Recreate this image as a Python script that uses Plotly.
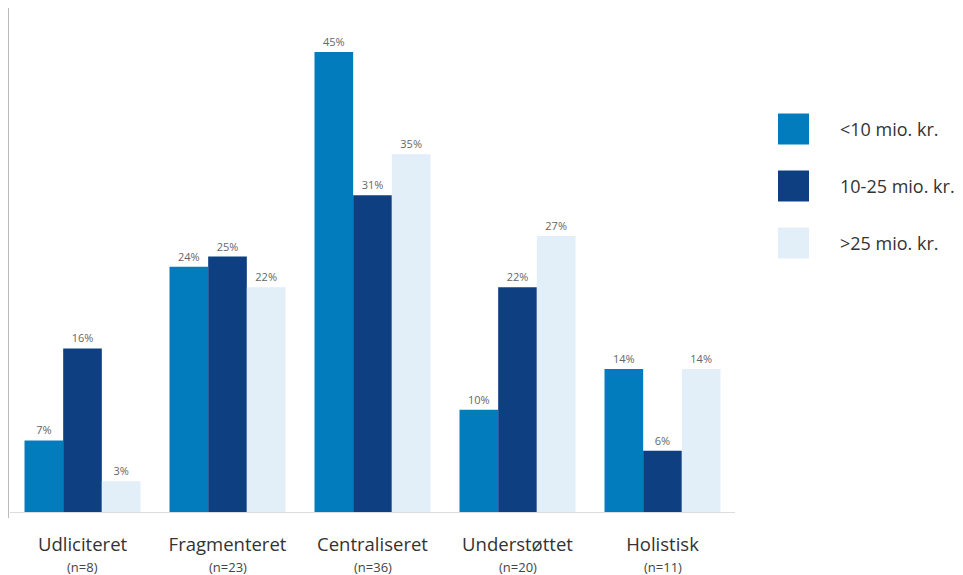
import plotly.graph_objects as go

categories = ["Udliciteret", "Fragmenteret", "Centraliseret", "Understøttet", "Holistisk"]
n_counts = ["(n=8)", "(n=23)", "(n=36)", "(n=20)", "(n=11)"]
series_names = ["<10 mio. kr.", "10-25 mio. kr.", ">25 mio. kr."]
small = [7, 24, 45, 10, 14]
medium = [16, 25, 31, 22, 6]
large = [3, 22, 35, 27, 14]
colors = ["#027CBD", "#0E3F80", "#E2EEF8"]

FONT = "Open Sans, Noto Sans, sans-serif"

# page has an 8px body margin; figure coords = page coords - 8
W, H = 955, 567
L, R, T, B = 2, 228, 0, 63
PW, PH = W - L - R, H - T - B

fig = go.Figure()
for name, vals, col in zip(series_names, [small, medium, large], colors):
    fig.add_trace(go.Bar(
        x=categories, y=vals, name=name, marker=dict(color=col, line=dict(width=0)),
        texttemplate="%{y}%", textposition="outside",
        textfont=dict(size=11, color="#666666", family=FONT), cliponaxis=False,
        showlegend=False,
    ))

def px_x(page_x):
    return (page_x - 8 - L) / PW

def px_y(page_y):
    return (H - B - (page_y - 8)) / PH

# n-count sub labels under category names
for cat, n in zip(categories, n_counts):
    fig.add_annotation(text=n, xref="x", yref="paper", x=cat, y=px_y(567),
                       xanchor="center", yanchor="middle", showarrow=False,
                       font=dict(size=13, color="#444444", family=FONT))

# legend drawn manually (large square swatches)
leg_y = [129, 186, 243]
for name, col, yc in zip(series_names, colors, leg_y):
    fig.add_shape(type="rect", xref="paper", yref="paper",
                  x0=px_x(778), x1=px_x(809), y0=px_y(yc + 15.5), y1=px_y(yc - 15.5),
                  fillcolor=col, line=dict(width=0), layer="above")
    fig.add_annotation(text=name, xref="paper", yref="paper",
                       x=px_x(838), y=px_y(yc),
                       xanchor="left", yanchor="middle", showarrow=False,
                       font=dict(size=18, color="#333333", family=FONT))

# left axis line extending slightly below baseline
fig.add_shape(type="line", xref="paper", yref="paper", x0=px_x(8.5), x1=px_x(8.5),
              y0=px_y(518), y1=1, line=dict(color="#BBBBBB", width=1))

fig.update_layout(
    width=W, height=H,
    margin=dict(l=L, r=R, t=T, b=B, autoexpand=False),
    paper_bgcolor="white", plot_bgcolor="white",
    barmode="group", bargap=0.2, bargroupgap=0,
    font=dict(family=FONT, color="#333333"),
    xaxis=dict(tickmode="array", tickvals=categories, ticktext=categories,
               tickfont=dict(size=18.5, color="#333333", family=FONT),
               showline=True, linecolor="#DDDDDD", linewidth=1,
               ticks="", ticklabelstandoff=16, showgrid=False, automargin=False),
    yaxis=dict(range=[0, 504 / 10.22], visible=False, showgrid=False, zeroline=False),
)

fig.write_html("out.html")
